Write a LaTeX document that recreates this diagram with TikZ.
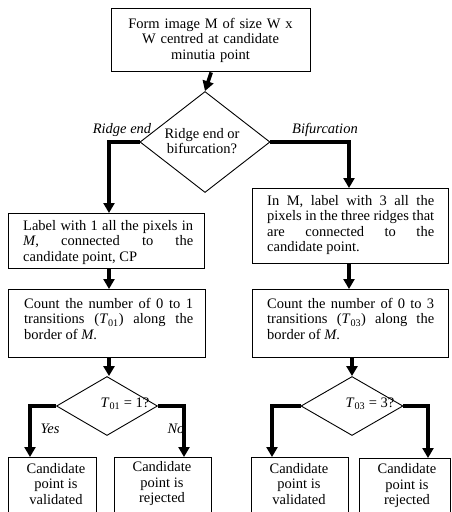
\documentclass[tikz,border=0pt]{standalone}
\usepackage{fontspec}
\setmainfont{Liberation Serif}
\usetikzlibrary{arrows.meta,shapes.geometric}
\hyphenpenalty=10000
\exhyphenpenalty=10000
\begin{document}
\begin{tikzpicture}[x=1pt,y=-1pt,
  box/.style={draw,line width=1.4pt,inner sep=0pt,anchor=north west},
  txt/.style={inner sep=0pt,font=\fontsize{14.5}{15.5}\selectfont},
  jtxt/.style={txt,align=justify},
  ctxt/.style={txt,align=center},
  dia/.style={draw,diamond,line width=0.9pt,inner sep=0pt},
  flow/.style={line width=4pt,-{Triangle[width=11pt,length=10pt]}},
  lab/.style={font=\fontsize{14.5}{15.5}\selectfont\itshape,inner sep=0pt}]
\useasboundingbox (0,0) rectangle (451,512);
% top box
\node[box,minimum width=199pt,minimum height=63pt] (b1) at (111,8) {};
\node[ctxt,text width=190pt] (b1t) at (210.5,40) {Form image M of size W x\\ W centred at candidate\\ minutia point};
% first diamond
\node[dia,minimum width=130pt,minimum height=101pt] (d1) at (205,142) {};
\node[ctxt] (d1t) at (202,141) {Ridge end or\\ bifurcation?};
\node[lab] (lre) at (122,130) {Ridge end};
\node[lab] (lbf) at (325,130) {Bifurcation};
% left column
\node[box,minimum width=196pt,minimum height=55pt] (b2l) at (8,213) {};
\node[jtxt,text width=170pt,anchor=north west] (b2lt) at (23,220) {Label with 1 all the pixels in\linebreak \textit{M}, connected to the\linebreak candidate point, CP};
\node[box,minimum width=197pt,minimum height=68pt] (b3l) at (8,289) {};
\node[jtxt,text width=169pt,anchor=north west] (b3lt) at (24,298) {Count the number of 0 to 1\linebreak transitions (\textit{T}\textsubscript{01}) along the\linebreak border of \textit{M}.};
% right column
\node[box,minimum width=196pt,minimum height=75pt] (b2r) at (252,188) {};
\node[jtxt,text width=167pt,anchor=north west] (b2rt) at (267,195) {In M, label with 3 all the\linebreak pixels in the three ridges that\linebreak are connected to the\linebreak candidate point.};
\node[box,minimum width=196pt,minimum height=68pt] (b3r) at (252,289) {};
\node[jtxt,text width=167pt,anchor=north west] (b3rt) at (267,298) {Count the number of 0 to 3\linebreak transitions (\textit{T}\textsubscript{03}) along the\linebreak border of \textit{M}.};
% lower diamonds
\node[dia,minimum width=101pt,minimum height=59pt] (d2) at (107,406) {};
\node[txt] (d2t) at (125,404) {\textit{T}\textsubscript{01} = 1?};
\node[dia,minimum width=102pt,minimum height=59pt] (d3) at (352,406) {};
\node[txt] (d3t) at (370,404) {\textit{T}\textsubscript{03} = 3?};
\node[lab] (lyes) at (50,429) {Yes};
\node[lab] (lno) at (176,429) {No};
% bottom boxes
\node[box,minimum width=88pt,minimum height=65pt] (v1) at (8,457) {};
\node[ctxt] (v1t) at (56,484) {Candidate\\ point is\\ validated};
\node[box,minimum width=97pt,minimum height=65pt] (r1) at (114,457) {};
\node[ctxt] (r1t) at (162,484) {Candidate\\ point is\\ rejected};
\node[box,minimum width=97pt,minimum height=65pt] (v2) at (251,457) {};
\node[ctxt] (v2t) at (299,484) {Candidate\\ point is\\ validated};
\node[box,minimum width=91pt,minimum height=65pt] (r2) at (359,458) {};
\node[ctxt] (r2t) at (407,486) {Candidate\\ point is\\ rejected};
% bend points
\coordinate (c1) at (109,142);
\coordinate (c2) at (349,142);
\coordinate (c3) at (30,406);
\coordinate (c4) at (184,406);
\coordinate (c5) at (272,406);
\coordinate (c6) at (428,406);
% connectors
\draw[line width=3.5pt,-{Triangle[width=11pt,length=10pt]}] (b1.south) -- (d1.north);
\draw[flow] (d1.west) -- (c1) -- (c1 |- b2l.north);
\draw[flow] (d1.east) -- (c2) -- (c2 |- b2r.north);
\draw[flow] (c1 |- b2l.south) -- (c1 |- b3l.north);
\draw[flow] (c2 |- b2r.south) -- (c2 |- b3r.north);
\draw[flow] (c1 |- b3l.south) -- (c1 |- d2.north);
\draw[flow] (d3.north |- b3r.south) -- (d3.north);
\draw[flow] (d2.west) -- (c3) -- (c3 |- v1.north);
\draw[flow] (d2.east) -- (c4) -- (c4 |- r1.north);
\draw[flow] (d3.west) -- (c5) -- (c5 |- v2.north);
\draw[flow] (d3.east) -- (c6) -- (c6 |- r2.north);
\end{tikzpicture}
\end{document}
